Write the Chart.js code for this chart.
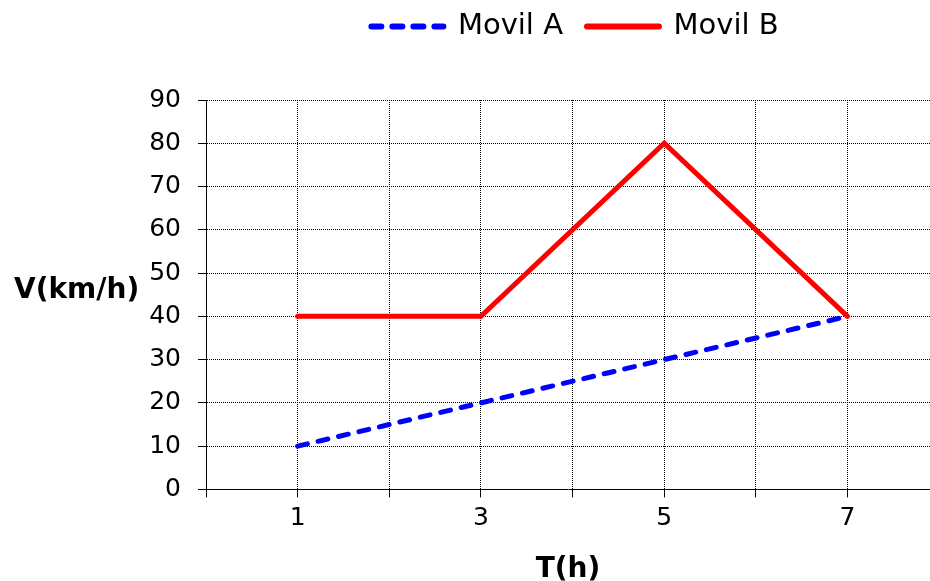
<!DOCTYPE html>
<html><head><meta charset="utf-8">
<script src="https://cdn.jsdelivr.net/npm/chart.js@4/dist/chart.umd.min.js"></script>
<style>html,body{margin:0;padding:0;background:#fff}#wrap{width:930px;height:581px}</style>
</head><body><div id="wrap"><canvas id="c" width="930" height="581"></canvas></div>
<script>
const times = [1, 3, 5, 7];
const movilA = [10, 20, 30, 40];
const movilB = [40, 40, 80, 40];
const xTickLabels = ['1', '3', '5', '7'];
const seriesNames = ['Movil A', 'Movil B'];
const yTitle = 'V(km/h)';
const xTitle = 'T(h)';

const FONT = '"DejaVu Sans", Verdana, sans-serif';

const yTitlePlugin = {
  id: 'yTitleHoriz',
  afterDraw(chart) {
    const {ctx, chartArea} = chart;
    ctx.save();
    ctx.font = 'bold 28px ' + FONT;
    ctx.fillStyle = '#000';
    ctx.textAlign = 'left';
    ctx.textBaseline = 'middle';
    ctx.fillText(yTitle, 14, (chartArea.top + chartArea.bottom) / 2 - 4);
    ctx.restore();
  }
};

const legendShift = {
  id: 'legendShift',
  afterLayout(chart) {
    if (chart.legend) { chart.legend.left += 7; chart.legend.right += 7; }
  }
};

new Chart(document.getElementById('c'), {
  type: 'line',
  data: {
    datasets: [
      {
        label: seriesNames[0],
        data: times.map((t, i) => ({x: t, y: movilA[i]})),
        borderColor: '#0000ff',
        backgroundColor: '#0000ff',
        borderWidth: 5,
        borderDash: [10, 11],
        borderCapStyle: 'round',
        borderJoinStyle: 'miter',
        pointRadius: 0,
        fill: false,
        tension: 0
      },
      {
        label: seriesNames[1],
        data: times.map((t, i) => ({x: t, y: movilB[i]})),
        borderColor: '#ff0000',
        backgroundColor: '#ff0000',
        borderWidth: 5,
        borderCapStyle: 'round',
        borderJoinStyle: 'miter',
        pointRadius: 0,
        fill: false,
        tension: 0
      }
    ]
  },
  options: {
    responsive: false,
    animation: false,
    layout: {padding: {top: -12, right: 0, bottom: 0, left: 0}},
    plugins: {
      tooltip: {enabled: false},
      legend: {
        position: 'top',
        fullSize: false,
        labels: {
          usePointStyle: true,
          pointStyle: 'line',
          pointStyleWidth: 72,
          padding: 24,
          color: '#000',
          font: {family: FONT, size: 29},
          generateLabels(chart) {
            return Chart.defaults.plugins.legend.labels.generateLabels(chart).map(l => {
              const ds = chart.data.datasets[l.datasetIndex];
              return Object.assign(l, {lineWidth: 6, lineDash: ds.borderDash || [], lineCap: 'round'});
            });
          }
        }
      },
      subtitle: {
        display: true,
        text: '',
        weight: 500,
        fullSize: false,
        font: {size: 10, lineHeight: 1},
        padding: {top: 0, bottom: 39}
      }
    },
    scales: {
      x: {
        type: 'linear',
        min: 0,
        max: 7.9,
        afterFit(scale) { scale.paddingRight = 0; scale.paddingLeft = 0; },
        ticks: {
          stepSize: 1,
          includeBounds: false,
          autoSkip: false,
          maxRotation: 0,
          padding: 6,
          color: '#000',
          font: {family: FONT, size: 25},
          callback: v => xTickLabels.includes(String(v)) ? String(v) : ''
        },
        grid: {
          color: '#000',
          lineWidth: 1,
          tickLength: 8,
          tickColor: '#000'
        },
        border: {display: true, color: '#000', width: 1, dash: [1, 1]},
        title: {
          display: true,
          text: xTitle,
          color: '#000',
          font: {family: FONT, size: 28, weight: 'bold'},
          padding: {top: 14, bottom: -6}
        }
      },
      y: {
        min: 0,
        max: 90,
        afterFit(scale) { scale.width = 206; },
        ticks: {
          stepSize: 10,
          padding: 17,
          color: '#000',
          font: {family: FONT, size: 25}
        },
        grid: {
          color: '#000',
          lineWidth: 1,
          tickLength: 8,
          tickColor: '#000'
        },
        border: {display: true, color: '#000', width: 1, dash: [1, 1]}
      }
    }
  },
  plugins: [yTitlePlugin, legendShift]
});
</script>
</body></html>
